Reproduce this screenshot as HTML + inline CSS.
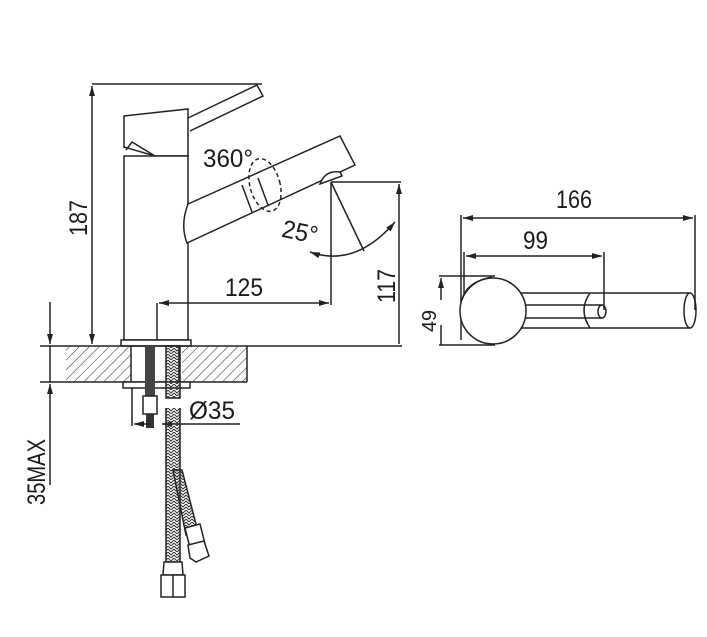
<!DOCTYPE html>
<html><head><meta charset="utf-8"><style>
html,body{margin:0;padding:0;background:#fff;}
svg{display:block}
text{font-family:"Liberation Sans",sans-serif;font-size:25px;fill:#1a1a1a}
</style></head><body>
<svg width="707" height="637" viewBox="0 0 707 637" xmlns="http://www.w3.org/2000/svg">
<defs>
<pattern id="h" width="7" height="7" patternUnits="userSpaceOnUse" patternTransform="rotate(45)">
<line x1="0" y1="0" x2="0" y2="7" stroke="#333" stroke-width="1.1"/>
</pattern>
<pattern id="hose" width="6" height="6" patternUnits="userSpaceOnUse">
<path d="M0 0 L3 3 L6 0 M0 3 L3 6 L6 3" stroke="#333" stroke-width="1" fill="none"/>
</pattern>
<marker id="a" viewBox="0 0 10 6" refX="10" refY="3" markerWidth="10" markerHeight="6" orient="auto-start-reverse" markerUnits="userSpaceOnUse">
<path d="M0 0 L10 3 L0 6z" fill="#222"/>
</marker>
</defs>
<g stroke="#222" stroke-width="1.5" fill="none">
<line x1="92" y1="84" x2="262" y2="84"/>
<line x1="92" y1="86" x2="92" y2="344" marker-start="url(#a)" marker-end="url(#a)"/>
<path d="M188 118 L257 85 L263 96 L190 131" fill="#fff"/>
<path d="M124 116 L188 109 L188 156 L155 156 L124 147 Z" fill="#fff"/>
<path d="M126 150 L132 142 L155 156"/>
<rect x="124" y="156" width="64" height="184" fill="#fff"/>
<rect x="121" y="340" width="70" height="6" fill="#fff"/>
<path d="M188 204 L340 136 L355 165 L187 243 Q180 225 188 204 Z" fill="#fff"/>
<line x1="242" y1="185" x2="252" y2="212"/>
<line x1="258" y1="178" x2="268" y2="205"/>
<ellipse cx="265" cy="185" rx="15" ry="27" transform="rotate(-15 265 185)" stroke-dasharray="4 3"/>
<path d="M320 184 Q325 170 340 172 L342 176 Z" fill="#fff"/>
<line x1="331" y1="182" x2="331" y2="305"/>
<line x1="331" y1="182" x2="364" y2="251"/>
<path d="M310 252 Q355 268 395 222" marker-start="url(#a)" marker-end="url(#a)"/>
<line x1="331" y1="182" x2="401" y2="182"/>
<line x1="399" y1="184" x2="399" y2="344" marker-start="url(#a)"/>
<line x1="157" y1="303" x2="157" y2="340"/>
<line x1="159" y1="303" x2="329" y2="303" marker-start="url(#a)" marker-end="url(#a)"/>
<line x1="40" y1="346" x2="402" y2="346"/>
<line x1="40" y1="382" x2="247" y2="382"/>
<rect x="66" y="347" width="65" height="35" fill="url(#h)" stroke="none"/>
<rect x="182" y="347" width="65" height="35" fill="url(#h)" stroke="none"/>
<line x1="247" y1="346" x2="247" y2="382"/>
<line x1="50" y1="302" x2="50" y2="344" marker-end="url(#a)"/>
<line x1="50" y1="346" x2="50" y2="382"/>
<line x1="50" y1="485" x2="50" y2="384" marker-end="url(#a)"/>
<line x1="131" y1="346" x2="131" y2="383"/>
<line x1="179" y1="346" x2="179" y2="383"/>
<rect x="123" y="382" width="67" height="6" fill="#fff"/>
<rect x="145" y="346" width="10" height="50" fill="#444" stroke="none"/>
<rect x="166" y="346" width="14" height="52" fill="url(#hose)"/>
<rect x="143" y="396" width="14" height="18" fill="#fff"/>
<rect x="146" y="414" width="8" height="14" fill="#333" stroke="none"/>
<line x1="132" y1="388" x2="132" y2="426"/>
<line x1="134" y1="424" x2="150" y2="424" marker-start="url(#a)"/>
<line x1="162" y1="424" x2="240" y2="424" marker-start="url(#a)"/>
<path d="M166 408 L166 575 L180 575 L180 408" fill="url(#hose)"/>
<path d="M173 470 L182 470 L198 532 L186 535 Z" fill="url(#hose)"/>
<path d="M185 528 L200 524 L205 544 L190 548 Z" fill="#fff"/>
<path d="M188 545 L204 541 L209 556 L196 562 L190 558 Z" fill="#fff"/>
<path d="M164 562 L182 562 L183 575 L163 575 Z" fill="#fff"/>
<rect x="161" y="575" width="24" height="22" fill="#fff"/>
<line x1="173" y1="575" x2="173" y2="597"/>
<line x1="461" y1="215" x2="461" y2="340"/>
<line x1="695" y1="215" x2="695" y2="310"/>
<line x1="463" y1="218" x2="693" y2="218" marker-start="url(#a)" marker-end="url(#a)"/>
<line x1="604" y1="252" x2="604" y2="310"/>
<line x1="466" y1="256" x2="602" y2="256" marker-start="url(#a)" marker-end="url(#a)"/>
<line x1="464" y1="252" x2="464" y2="310"/>
<line x1="439" y1="276" x2="495" y2="276"/>
<line x1="439" y1="345" x2="495" y2="345"/>
<line x1="441" y1="278" x2="441" y2="300" marker-start="url(#a)"/>
<line x1="441" y1="325" x2="441" y2="345"/>
<line x1="520" y1="293" x2="690" y2="293"/>
<line x1="520" y1="328" x2="690" y2="328"/>
<line x1="520" y1="305" x2="602" y2="305"/>
<line x1="520" y1="318" x2="602" y2="318"/>
<ellipse cx="602" cy="311.5" rx="4" ry="6.5"/>
<path d="M590 293 Q578 310 590 328"/>
<ellipse cx="690" cy="310.5" rx="6" ry="17.5"/>
<circle cx="493" cy="311" r="33" fill="#fff"/>
<path d="M462 300 Q466 282 492 277"/>
</g>
<g>
<text x="203" y="167" textLength="50" lengthAdjust="spacingAndGlyphs">360°</text>
<text x="282" y="240" textLength="36" lengthAdjust="spacingAndGlyphs" transform="rotate(12 298 232)">25°</text>
<text x="225" y="296" textLength="38" lengthAdjust="spacingAndGlyphs">125</text>
<text x="556" y="208" textLength="36" lengthAdjust="spacingAndGlyphs">166</text>
<text x="523" y="249" textLength="25" lengthAdjust="spacingAndGlyphs">99</text>
<text x="189" y="419" textLength="46" lengthAdjust="spacingAndGlyphs">Ø35</text>
<text transform="translate(87 200) rotate(-90)" x="-36" textLength="36" lengthAdjust="spacingAndGlyphs">187</text>
<text transform="translate(395 303) rotate(-90)" x="0" textLength="34" lengthAdjust="spacingAndGlyphs">117</text>
<text transform="translate(45 505) rotate(-90)" x="0" textLength="66" lengthAdjust="spacingAndGlyphs">35MAX</text>
<text transform="translate(436 332) rotate(-90)" x="0" style="font-size:20px" textLength="22" lengthAdjust="spacingAndGlyphs">49</text>
</g>
</svg>
</body></html>
